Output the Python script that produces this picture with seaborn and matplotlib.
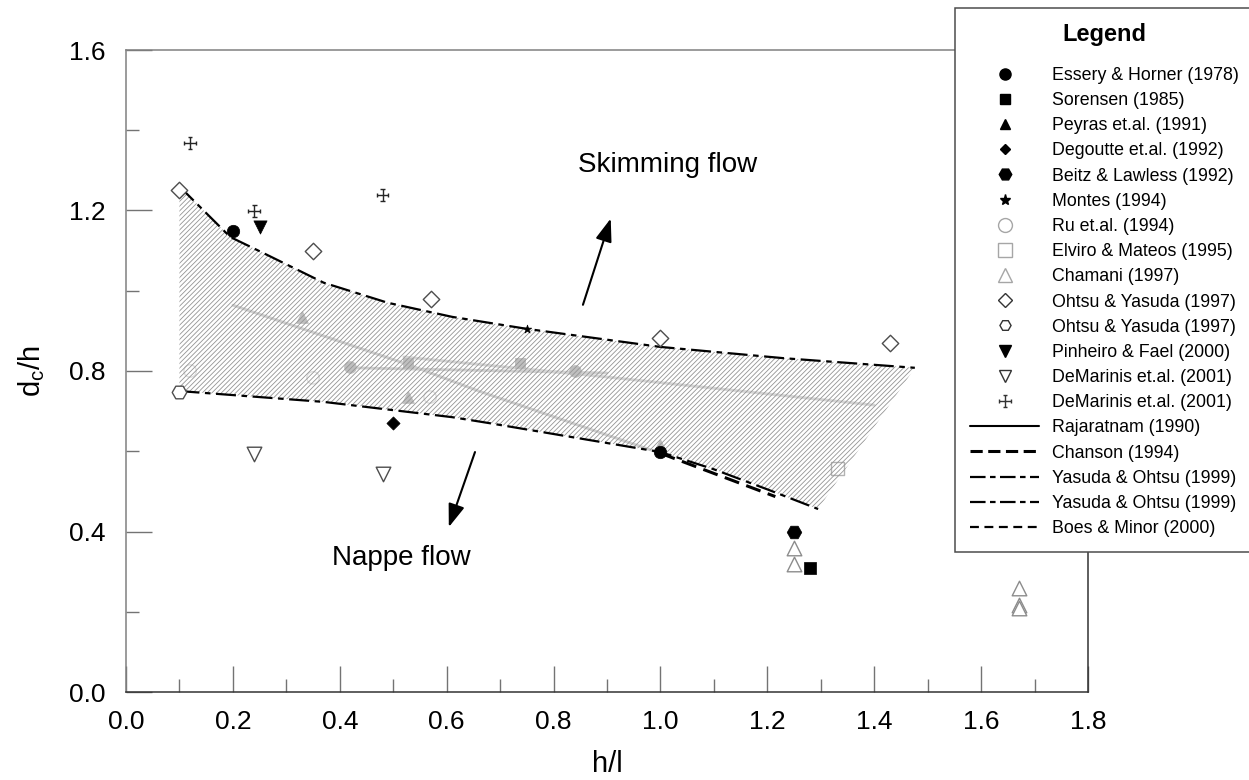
import numpy as np
import matplotlib
matplotlib.use("Agg")
import matplotlib.pyplot as plt
from matplotlib.lines import Line2D
from matplotlib.path import Path
from matplotlib.ticker import MultipleLocator, FormatStrFormatter
import seaborn as sns

# ---- values (h/l , dc/h) ----
essery_x = [0.20, 1.00]
essery_y = [1.15, 0.598]
sorensen_x = [1.28]
sorensen_y = [0.31]
degoutte_x = [0.50]
degoutte_y = [0.67]
beitz_x = [1.25]
beitz_y = [0.40]
montes_x = [0.75]
montes_y = [0.905]
elviro_x = [1.332]
elviro_y = [0.557]
chamani_x = [1.25, 1.25, 1.67, 1.67, 1.67]
chamani_y = [0.36, 0.32, 0.26, 0.218, 0.21]
ohtsu_dia_x = [0.10, 0.35, 0.57, 1.00, 1.43]
ohtsu_dia_y = [1.25, 1.10, 0.98, 0.882, 0.87]
ohtsu_hex_x = [0.10]
ohtsu_hex_y = [0.748]
pinheiro_x = [0.25]
pinheiro_y = [1.16]
demar_tri_x = [0.24, 0.48]
demar_tri_y = [0.593, 0.543]
demar_crs_x = [0.12, 0.24, 0.48]
demar_crs_y = [1.368, 1.199, 1.239]

# points only seen faintly through the hatched band
faded_tri_x = [0.329, 0.528, 1.00]
faded_tri_y = [0.935, 0.735, 0.615]
faded_circ_x = [0.419, 0.84]
faded_circ_y = [0.81, 0.80]
faded_sq_x = [0.528, 0.737]
faded_sq_y = [0.82, 0.82]
faint_open_x = [0.12, 0.35, 0.569]
faint_open_y = [0.80, 0.783, 0.735]

# criteria lines
upper_x = [0.10, 0.195, 0.257, 0.37, 0.49, 0.61, 0.75, 1.00, 1.23, 1.476]
upper_y = [1.26, 1.134, 1.094, 1.02, 0.97, 0.935, 0.905, 0.86, 0.832, 0.808]
lower_x = [0.10, 0.37, 0.61, 0.68, 1.00, 1.10, 1.20, 1.295]
lower_y = [0.75, 0.723, 0.685, 0.67, 0.598, 0.555, 0.505, 0.456]
chanson_x = [0.20, 0.53, 0.66, 0.91, 1.00, 1.215]
chanson_y = [0.964, 0.815, 0.75, 0.636, 0.595, 0.487]
raj_x = [0.42, 0.90]
raj_y = [0.808, 0.795]
boes_x = [0.52, 0.90, 1.40]
boes_y = [0.835, 0.785, 0.715]

legend_labels = [
    "Essery & Horner (1978)", "Sorensen (1985)", "Peyras et.al. (1991)",
    "Degoutte et.al. (1992)", "Beitz & Lawless (1992)", "Montes (1994)",
    "Ru et.al. (1994)", "Elviro & Mateos (1995)", "Chamani (1997)",
    "Ohtsu & Yasuda (1997)", "Ohtsu & Yasuda (1997)", "Pinheiro & Fael (2000)",
    "DeMarinis et.al. (2001)", "DeMarinis et.al. (2001)", "Rajaratnam (1990)",
    "Chanson (1994)", "Yasuda & Ohtsu (1999)", "Yasuda & Ohtsu (1999)",
    "Boes & Minor (2000)",
]

sns.set_style("white")
plt.rcParams["font.family"] = ["Liberation Sans", "DejaVu Sans"]
plt.rcParams["mathtext.default"] = "regular"
plt.rcParams["text.color"] = "k"
plt.rcParams["axes.labelcolor"] = "k"
plt.rcParams["hatch.linewidth"] = 0.6

# plus sign with small end bars (DeMarinis marker)
M, L = Path.MOVETO, Path.LINETO
cross = Path([(0, -1), (0, 1), (-1, 0), (1, 0),
              (-0.4, 1), (0.4, 1), (-0.4, -1), (0.4, -1),
              (-1, -0.4), (-1, 0.4), (1, -0.4), (1, 0.4)], [M, L] * 6)

dashdot = (0, (9, 2.5, 2.5, 2.5))
longdash = (0, (5, 2.5))

fig = plt.figure(figsize=(12.49, 7.8), dpi=100)
ax = fig.add_axes([126 / 1249, 88 / 780, 962 / 1249, 642 / 780])

# faded stuff under the hatch
sns.lineplot(x=chanson_x[:5], y=chanson_y[:5], sort=False, estimator=None, color="0.82", lw=2, ax=ax, zorder=1)
sns.lineplot(x=raj_x, y=raj_y, sort=False, estimator=None, color="0.82", lw=2, ax=ax, zorder=1)
sns.lineplot(x=boes_x, y=boes_y, sort=False, estimator=None, color="0.84", lw=2, ax=ax, zorder=1)
sns.scatterplot(x=faded_tri_x, y=faded_tri_y, marker="^", s=70, color="0.75", edgecolor="0.75", ax=ax, zorder=1)
sns.scatterplot(x=faded_circ_x, y=faded_circ_y, marker="o", s=70, color="0.75", edgecolor="0.75", ax=ax, zorder=1)
sns.scatterplot(x=faded_sq_x, y=faded_sq_y, marker="s", s=60, color="0.75", edgecolor="0.75", ax=ax, zorder=1)
sns.scatterplot(x=faint_open_x, y=faint_open_y, marker="o", s=80, facecolor="none", edgecolor="0.87", linewidth=1, ax=ax, zorder=1)

# hatched transition band
band_x = np.r_[upper_x, lower_x[::-1]]
band_y = np.r_[upper_y, lower_y[::-1]]
ax.fill(band_x, band_y, facecolor="none", edgecolor="0.58", linewidth=0, hatch="/" * 7, zorder=2)

# boundary lines
sns.lineplot(x=upper_x, y=upper_y, sort=False, estimator=None, color="k", lw=1.6, linestyle=dashdot, ax=ax, zorder=3)
sns.lineplot(x=lower_x, y=lower_y, sort=False, estimator=None, color="k", lw=1.6, linestyle=dashdot, ax=ax, zorder=3)
sns.lineplot(x=chanson_x[4:], y=chanson_y[4:], sort=False, estimator=None, color="k", lw=2.2, linestyle=longdash, ax=ax, zorder=3)

# data points
sns.scatterplot(x=essery_x, y=essery_y, marker="o", s=80, color="k", edgecolor="k", linewidth=0.5, ax=ax, zorder=4)
sns.scatterplot(x=sorensen_x, y=sorensen_y, marker="s", s=70, color="k", edgecolor="k", linewidth=0.5, ax=ax, zorder=4)
sns.scatterplot(x=degoutte_x, y=degoutte_y, marker="D", s=45, color="k", edgecolor="k", linewidth=0.5, ax=ax, zorder=4)
sns.scatterplot(x=beitz_x, y=beitz_y, marker="H", s=110, color="k", edgecolor="k", linewidth=0.5, ax=ax, zorder=4)
sns.scatterplot(x=montes_x, y=montes_y, marker="*", s=40, color="k", edgecolor="k", linewidth=0.5, ax=ax, zorder=4)
sns.scatterplot(x=elviro_x, y=elviro_y, marker="s", s=90, facecolor="none", edgecolor="0.7", linewidth=1, ax=ax, zorder=1)
sns.scatterplot(x=chamani_x, y=chamani_y, marker="^", s=110, facecolor="white", edgecolor="0.55", linewidth=1, ax=ax, zorder=4)
sns.scatterplot(x=ohtsu_dia_x, y=ohtsu_dia_y, marker="D", s=70, facecolor="white", edgecolor="0.3", linewidth=1, ax=ax, zorder=4)
sns.scatterplot(x=ohtsu_hex_x, y=ohtsu_hex_y, marker="H", s=110, facecolor="white", edgecolor="0.3", linewidth=1, ax=ax, zorder=4)
sns.scatterplot(x=pinheiro_x, y=pinheiro_y, marker="v", s=90, color="k", edgecolor="k", linewidth=0.5, ax=ax, zorder=4)
sns.scatterplot(x=demar_tri_x, y=demar_tri_y, marker="v", s=110, facecolor="white", edgecolor="0.3", linewidth=1, ax=ax, zorder=4)
sns.scatterplot(x=demar_crs_x, y=demar_crs_y, marker=cross, s=70, facecolor="none", edgecolor="0.15", linewidth=1, ax=ax, zorder=4)

# annotations
ax.text(1.014, 1.313, "Skimming flow", fontsize=20, ha="center", va="center")
ax.text(0.515, 0.334, "Nappe flow", fontsize=20, ha="center", va="center")
arrow = dict(arrowstyle="-|>,head_length=0.7,head_width=0.25", color="k", lw=1.5,
             shrinkA=0, shrinkB=0, mutation_scale=20)
ax.annotate("", xy=(0.907, 1.18), xytext=(0.855, 0.965), arrowprops=arrow)
ax.annotate("", xy=(0.604, 0.411), xytext=(0.653, 0.598), arrowprops=arrow)

# axes styling
ax.set_xlim(0, 1.8)
ax.set_ylim(0, 1.6)
ax.xaxis.set_major_locator(MultipleLocator(0.2))
ax.xaxis.set_minor_locator(MultipleLocator(0.1))
ax.yaxis.set_major_locator(MultipleLocator(0.4))
ax.yaxis.set_minor_locator(MultipleLocator(0.2))
ax.xaxis.set_major_formatter(FormatStrFormatter("%.1f"))
ax.yaxis.set_major_formatter(FormatStrFormatter("%.1f"))
ax.tick_params(which="both", direction="in", color="0.45", width=1,
               labelsize=19, labelcolor="k", bottom=True, left=True)
ax.tick_params(which="major", length=19)
ax.tick_params(which="minor", length=9.5)
ax.tick_params(axis="y", pad=15)
ax.tick_params(axis="x", pad=13)
for side, c in [("left", "0.5"), ("top", "0.5"), ("bottom", "0.2"), ("right", "0.2")]:
    ax.spines[side].set_color(c)
    ax.spines[side].set_linewidth(1.1)

ax.set_xlabel("h/l", fontsize=21)
ax.set_ylabel("d$_c$/h", fontsize=21)
ax.xaxis.set_label_coords(0.5, -0.09)
ax.yaxis.set_label_coords(-0.082, 0.5)

# legend
gray_open = dict(ls="none", mfc="white", mew=1)
handles = [
    Line2D([], [], marker="o", ls="none", color="k", ms=8),
    Line2D([], [], marker="s", ls="none", color="k", ms=7),
    Line2D([], [], marker="^", ls="none", color="k", ms=7),
    Line2D([], [], marker="D", ls="none", color="k", ms=5.5),
    Line2D([], [], marker="H", ls="none", color="k", ms=9),
    Line2D([], [], marker="*", ls="none", color="k", ms=8),
    Line2D([], [], marker="o", mec="0.65", ms=10, **gray_open),
    Line2D([], [], marker="s", mec="0.65", ms=10, **gray_open),
    Line2D([], [], marker="^", mec="0.65", ms=10, **gray_open),
    Line2D([], [], marker="D", mec="0.2", ms=7, **gray_open),
    Line2D([], [], marker="H", mec="0.2", ms=8, **gray_open),
    Line2D([], [], marker="v", ls="none", color="k", ms=9),
    Line2D([], [], marker="v", mec="0.2", ms=8, **gray_open),
    Line2D([], [], marker=cross, ls="none", mfc="none", mec="0.2", mew=1, ms=8),
    Line2D([], [], color="k", lw=1.5),
    Line2D([], [], color="k", lw=2.2, ls=(0, (4, 1.8))),
    Line2D([], [], color="k", lw=1.6, ls=(0, (7, 2, 2.5, 2))),
    Line2D([], [], color="k", lw=1.6, ls=(0, (7, 2, 2.5, 2))),
    Line2D([], [], color="k", lw=1.6, ls=(0, (4, 2.5))),
]
leg = ax.legend(handles, legend_labels, loc="upper left",
                bbox_to_anchor=(955 / 1249, 772 / 780), bbox_transform=fig.transFigure,
                borderaxespad=0, fontsize=12.8, title="Legend",
                title_fontproperties={"weight": "bold", "size": 17},
                frameon=True, fancybox=False, framealpha=1, edgecolor="0.3",
                labelcolor="k", handlelength=3.9, handletextpad=0.73,
                borderpad=0.85, labelspacing=0.46)
leg.get_title().set_color("k")
leg.get_frame().set_linewidth(1.1)
leg._legend_box.sep = 15

fig.savefig("out.png", dpi=100)
